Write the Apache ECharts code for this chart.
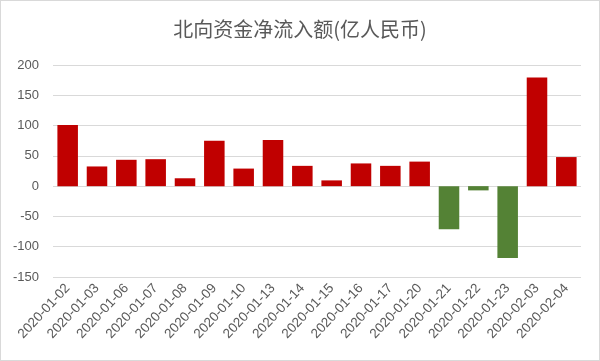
<!DOCTYPE html>
<html><head><meta charset="utf-8">
<script src="https://cdn.jsdelivr.net/npm/echarts@6/dist/echarts.min.js"></script>
<style>html,body{margin:0;padding:0;background:#fff}#c{width:600px;height:361px;box-sizing:border-box;border:1px solid #d9d9d9}</style>
</head><body><div id="c"></div>
<script>
const categories = ['2020-01-02','2020-01-03','2020-01-06','2020-01-07','2020-01-08','2020-01-09','2020-01-10','2020-01-13','2020-01-14','2020-01-15','2020-01-16','2020-01-17','2020-01-20','2020-01-21','2020-01-22','2020-01-23','2020-02-03','2020-02-04'];
const values = [101, 32.5, 43.5, 44.5, 13, 75, 29, 76, 33.5, 9.5, 37.5, 33.5, 40.5, -71, -7, -118.5, 179.5, 48];
const yTicks = [-150, -100, -50, 0, 50, 100, 150, 200];
const chart = echarts.init(document.getElementById('c'), null, {renderer: 'canvas'});
chart.setOption({
  animation: false,
  title: {text: '北向资金净流入额(亿人民币)', left: 'center', top: 13,
    textStyle: {fontFamily: 'Noto Sans CJK SC', fontSize: 20, fontWeight: 'normal', color: '#595959'}},
  grid: {left: 52, right: 18, top: 64, bottom: 83, containLabel: false},
  xAxis: {type: 'category', data: categories,
    axisLine: {show: false}, axisTick: {show: false},
    axisLabel: {rotate: 47, interval: 0, color: '#595959', fontSize: 13.5, fontFamily: 'Liberation Sans', margin: 9}},
  yAxis: {type: 'value', min: yTicks[0], max: yTicks[yTicks.length-1], interval: 50,
    axisLine: {show: false}, axisTick: {show: false},
    axisLabel: {color: '#595959', fontSize: 13, fontFamily: 'Liberation Sans', margin: 14},
    splitLine: {lineStyle: {color: '#d9d9d9', width: 1}}},
  series: [{type: 'bar', barWidth: '70%',
    data: values.map(v => ({value: v, itemStyle: {color: v >= 0 ? '#c00000' : '#548235'}}))}]
});
</script></body></html>
